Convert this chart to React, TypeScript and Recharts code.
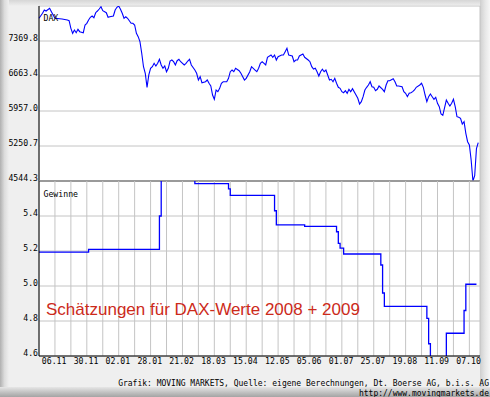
import React from 'react';
import { LineChart, Line, XAxis, YAxis, CartesianGrid } from 'recharts';

// Trading-day index (0 = late Oct 2007) and DAX close
const daxDays = [
  0, 2, 3, 4, 6, 7, 8, 9, 13, 16, 17, 18, 19, 20, 21, 22, 23, 25, 26, 27, 28, 29, 30, 31, 32, 33, 34, 35, 36, 38,
  39, 40, 42, 43, 44, 45, 46, 47, 48, 49, 50, 52, 53, 54, 55, 56, 57, 58, 59, 60, 61, 62, 63, 64, 65, 66, 67, 68, 69, 70,
  71, 72, 73, 74, 75, 76, 77, 78, 79, 80, 82, 83, 84, 85, 86, 88, 89, 90, 91, 92, 94, 95, 96, 97, 98, 99, 100, 101, 102, 103,
  104, 106, 107, 108, 109, 110, 111, 113, 114, 116, 117, 119, 120, 122, 123, 124, 125, 126, 128, 129, 131, 132, 133, 134, 135, 137, 138, 139, 140, 141,
  143, 144, 145, 146, 147, 149, 150, 152, 153, 154, 155, 156, 157, 158, 159, 160, 161, 162, 163, 164, 165, 166, 167, 168, 169, 170, 171, 172, 173, 174,
  175, 176, 177, 179, 180, 181, 182, 183, 184, 185, 186, 187, 188, 189, 190, 191, 192, 194, 195, 196, 197, 198, 200, 201, 202, 203, 205, 206, 207, 208,
  209, 210, 211, 212, 213, 215, 216, 217, 218, 219, 220, 221, 222, 223, 224, 225, 226, 227, 228, 230, 231, 232, 233, 234, 235, 236, 237, 238, 239, 240,
  241, 242, 243, 244, 245, 246, 247, 248,
];
const daxValues = [
  7828, 7929, 7995, 7975, 8030, 7961, 7895, 7828, 7814, 7794, 7780, 7626, 7525, 7592, 7537, 7606, 7558, 7537, 7693, 7727, 7794, 7848, 7874, 7840, 7941, 7975, 8016, 8062, 7981, 7941,
  7848, 7860, 7874, 7995, 8050, 8076, 8010, 7929, 7828, 7860, 7828, 7727, 7727, 7693, 7525, 7457, 7356, 7122, 6851, 6718, 6435, 6684, 6819, 6851, 6920, 6865, 6920, 7000, 6886, 6819,
  6865, 6750, 6819, 6966, 6986, 6952, 6886, 6972, 7000, 6952, 6886, 6920, 6966, 7000, 6886, 6784, 6718, 6583, 6649, 6528, 6548, 6583, 6516, 6462, 6280, 6193, 6381, 6347, 6415, 6516,
  6548, 6548, 6617, 6750, 6784, 6750, 6819, 6770, 6718, 6583, 6617, 6750, 6851, 6784, 6750, 6819, 6920, 6952, 6886, 7041, 7087, 7041, 7087, 6986, 7053, 7087, 7087, 7154, 7222, 7087,
  7067, 6952, 6986, 6986, 7067, 7107, 7041, 6986, 6952, 6851, 6805, 6819, 6750, 6663, 6750, 6799, 6750, 6784, 6684, 6583, 6597, 6548, 6617, 6516, 6435, 6415, 6347, 6326, 6367, 6314,
  6395, 6347, 6407, 6280, 6213, 6098, 6145, 6246, 6381, 6435, 6482, 6548, 6447, 6435, 6367, 6395, 6462, 6395, 6347, 6482, 6568, 6568, 6609, 6548, 6462, 6462, 6447, 6347, 6314, 6246,
  6314, 6326, 6347, 6381, 6435, 6482, 6516, 6435, 6280, 6145, 6246, 6300, 6246, 6193, 6233, 6112, 6044, 5896, 5870, 6179, 6112, 6058, 6112, 6193, 6044, 5842, 5830, 5810, 5695, 5741,
  5507, 5337, 5271, 4968, 4544.3, 4650, 5200, 5320,
];

// Earnings estimates (Gewinne) – step changes
const gewinneDays = [0, 28, 68, 69, 88, 107, 108, 133, 134, 150, 168, 169, 170, 172, 193, 194, 195, 219, 220, 221, 230, 240, 241, 247];
const gewinneValues = [5.194, 5.209, 5.4, 5.75, 5.585, 5.555, 5.518, 5.43, 5.349, 5.341, 5.31, 5.244, 5.217, 5.183, 5.12, 4.96, 4.884, 4.815, 4.67, 4.5, 4.73, 4.86, 5.01, 5.01];

const daxTicks = [4544.3, 5250.7, 5957.0, 6663.4, 7369.8];
const gewinneTicks = [4.6, 4.8, 5.0, 5.2, 5.4];
const gridDays = [9, 18, 27, 36, 45, 54, 63, 72, 81, 90, 99, 108, 117, 126, 135, 144, 153, 162, 171, 180, 189, 198, 207, 216, 225, 234, 243];
const dateLabels = ['06.11', '30.11', '02.01', '28.01', '21.02', '18.03', '15.04', '12.05', '05.06', '01.07', '25.07', '19.08', '11.09', '07.10'];

const daxData = daxDays.map((d, i) => ({ d, v: daxValues[i] }));
const gewData = gewinneDays.map((d, i) => ({ d, g: gewinneValues[i] }));

const MONO = '"DejaVu Sans Mono", monospace';
const FS = 8.2;

const YTick = (props: any) => {
  const { x, y, payload } = props;
  return (
    <text x={x} y={y} textAnchor="end" fontFamily={MONO} fontSize={FS} fill="#000">
      {Number(payload.value).toFixed(1)}
    </text>
  );
};

const XTick = (props: any) => {
  const { x, y, payload } = props;
  const k = Math.round(payload.value / 9);
  if (k % 2 === 0) return <g />;
  const label = dateLabels[(k - 1) / 2];
  return (
    <text x={x - 0.8} y={y + 7.5} textAnchor="middle" fontFamily={MONO} fontSize={FS} fill="#000">
      {label}
    </text>
  );
};

const abs = (s: React.CSSProperties): React.CSSProperties => ({ position: 'absolute', ...s });

export default function App() {
  return (
    <div style={{ position: 'relative', width: 490, height: 397, background: '#efefef', overflow: 'hidden' }}>
      <style>{`body{margin:0}`}</style>
      {/* bevel frame */}
      <div style={abs({ left: 0, top: 0, width: 490, height: 6, background: 'linear-gradient(to bottom, #d6d6d6, #efefef)' })} />
      <div style={abs({ left: 0, top: 0, width: 9, height: 397, background: 'linear-gradient(to right, #b0b0b0, #dcdcdc 50%, #efefef)' })} />
      <div style={abs({ left: 480, top: 0, width: 10, height: 397, background: 'linear-gradient(to right, #cfcfcf, #e6e6e6 50%, #f6f6f6)' })} />
      <div style={abs({ left: 0, top: 387, width: 490, height: 10, background: 'linear-gradient(to bottom, #e6e6e6, #c4c4c4 50%, #a4a4a4)' })} />
      {/* plot background */}
      <div style={abs({ left: 39, top: 5, width: 441, height: 351, background: '#ffffff' })} />

      <div style={abs({ left: 0, top: 0 })}>
        <LineChart width={490} height={190} data={daxData} margin={{ top: 6, right: 10, bottom: 0, left: 0 }}>
          <CartesianGrid stroke="#c4c4c4" strokeWidth={1} />
          <XAxis
            type="number"
            dataKey="d"
            domain={[0, 249]}
            ticks={gridDays}
            interval={0}
            tick={false}
            tickLine={false}
            axisLine={{ stroke: '#000' }}
            height={9}
          />
          <YAxis
            type="number"
            domain={[4544.3, 8076.3]}
            ticks={daxTicks}
            interval={0}
            tick={<YTick />}
            tickLine={false}
            tickSize={0}
            tickMargin={1}
            axisLine={{ stroke: '#000' }}
            width={39}
            allowDataOverflow
          />
          <Line type="linear" dataKey="v" stroke="#0000ff" strokeWidth={1.1} dot={false} isAnimationActive={false} />
        </LineChart>
      </div>

      <div style={abs({ left: 0, top: 0 })}>
        <LineChart width={490} height={397} data={gewData} margin={{ top: 181, right: 10, bottom: 21, left: 0 }}>
          <CartesianGrid stroke="#c4c4c4" strokeWidth={1} />
          <XAxis
            type="number"
            dataKey="d"
            domain={[0, 249]}
            ticks={gridDays}
            interval={0}
            tick={<XTick />}
            tickLine={false}
            tickSize={0}
            tickMargin={0}
            axisLine={{ stroke: '#000' }}
            height={20}
          />
          <YAxis
            type="number"
            domain={[4.6, 5.6]}
            ticks={gewinneTicks}
            interval={0}
            tick={<YTick />}
            tickLine={false}
            tickSize={0}
            tickMargin={1}
            axisLine={{ stroke: '#000' }}
            width={39}
            allowDataOverflow
          />
          <Line type="stepAfter" dataKey="g" stroke="#0000ff" strokeWidth={1.3} dot={false} isAnimationActive={false} />
        </LineChart>
      </div>

      <svg width={490} height={397} style={abs({ left: 0, top: 0, pointerEvents: 'none' })}>
        <text x={43.5} y={20.7} fontFamily={MONO} fontSize={FS} fill="#000">DAX</text>
        <text x={43.5} y={196.7} fontFamily={MONO} fontSize={FS} fill="#000">Gewinne</text>
        <text x={46} y={314.5} fontFamily='"Liberation Sans", Arial, sans-serif' fontSize={17} fill="#cc2a1a">
          Schätzungen für DAX-Werte 2008 + 2009
        </text>
        <text x={489} y={386} textAnchor="end" fontFamily={MONO} fontSize={8} fill="#000">
          Grafik: MOVING MARKETS, Quelle: eigene Berechnungen, Dt. Boerse AG, b.i.s. AG
        </text>
        <text x={489} y={395.5} textAnchor="end" fontFamily={MONO} fontSize={8} fill="#000">
          http://www.movingmarkets.de
        </text>
      </svg>
    </div>
  );
}
